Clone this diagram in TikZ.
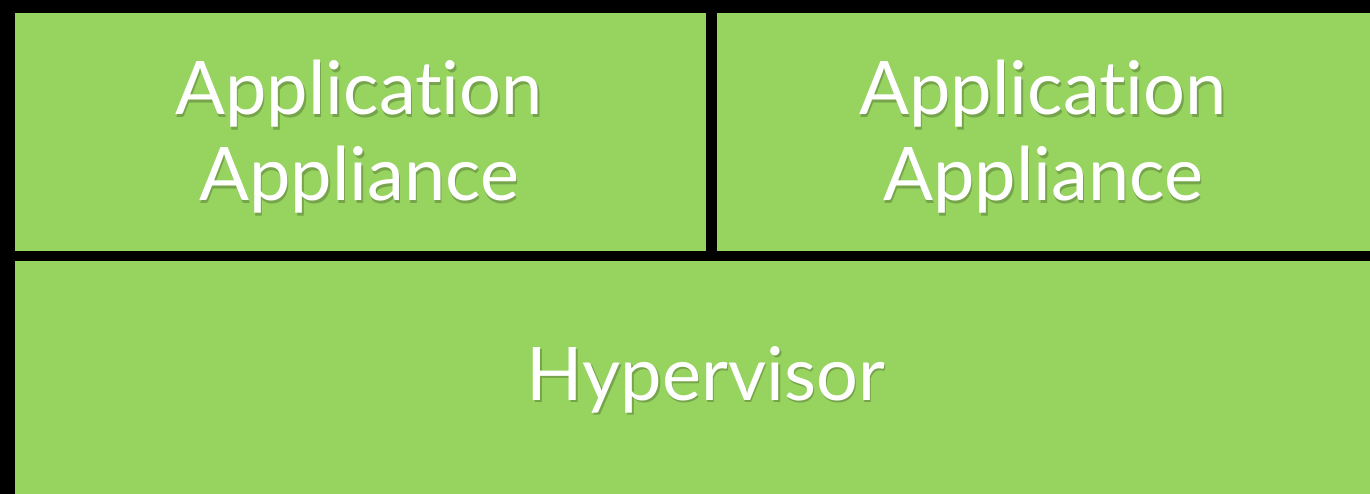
\documentclass[tikz,border=0pt]{standalone}
\usepackage{fontspec}
\setmainfont{Lato}[Ligatures={NoCommon,NoRare}]
\definecolor{boxgreen}{RGB}{150,211,95}
\colorlet{shadowgreen}{boxgreen!78!black}
\newcommand{\shadowed}[1]{\makebox[0pt][l]{\kern1.5pt\raisebox{-2.5pt}{\color{shadowgreen}#1}}#1}
\begin{document}
\begin{tikzpicture}[x=1pt,y=-1pt,
  layer/.style={fill=boxgreen,draw=none,inner sep=0pt,anchor=north west},
  lbl/.style={text=white,font=\fontsize{74}{87}\selectfont,inner sep=0pt,anchor=base}]
\fill[black] (0,0) rectangle (1370,494);
\useasboundingbox (0,0) rectangle (1370,494);
\node[layer,minimum width=691pt,minimum height=238pt] (app1) at (15,13) {};
\node[layer,minimum width=653pt,minimum height=238pt] (app2) at (717,13) {};
\node[layer,minimum width=1355pt,minimum height=233pt] (hyp) at (15,261) {};
\node[lbl] (t1a) at (359,115) {\shadowed{Application}};
\node[lbl] (t1b) at (359,201) {\shadowed{Appliance}};
\node[lbl] (t2a) at (1043,115) {\shadowed{Application}};
\node[lbl] (t2b) at (1043,201) {\shadowed{Appliance}};
\node[lbl] (t3) at (706,400) {\shadowed{Hypervisor}};
\end{tikzpicture}
\end{document}
